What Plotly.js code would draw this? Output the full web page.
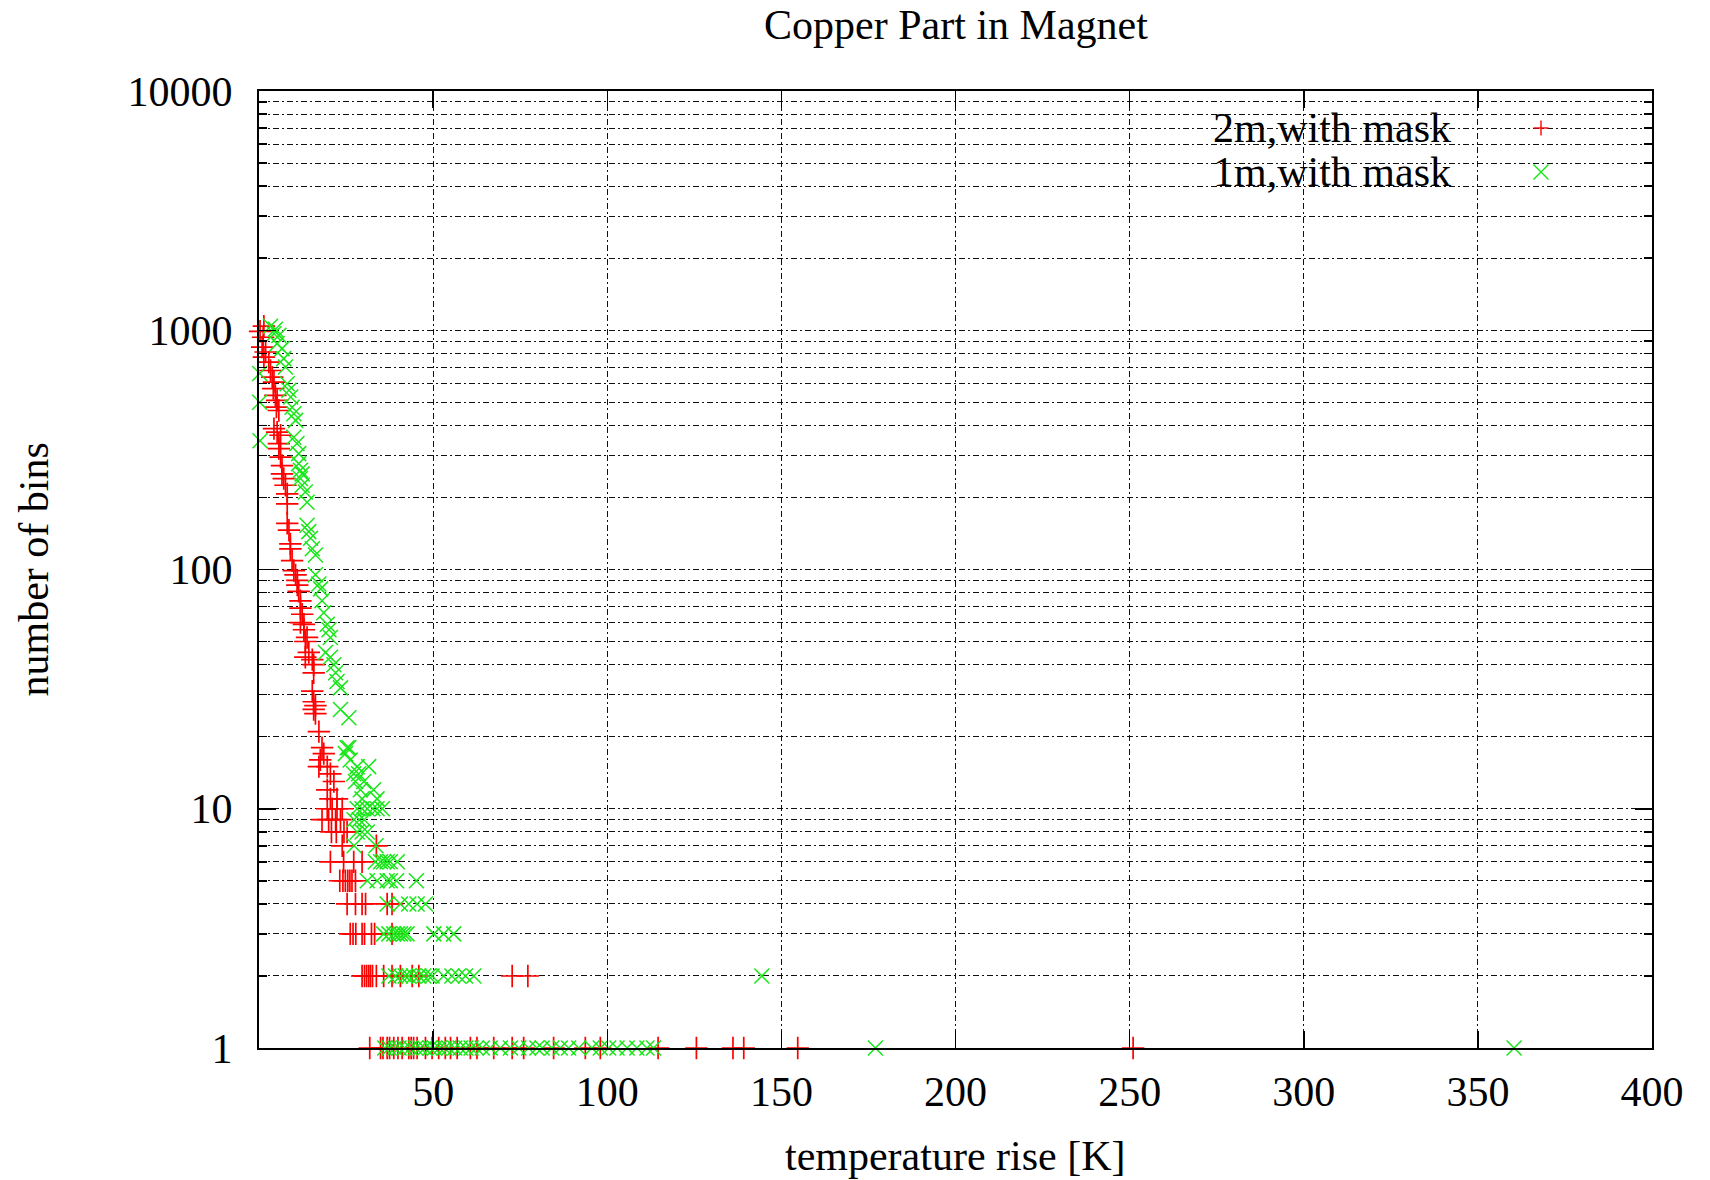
<!DOCTYPE html>
<html>
<head>
<meta charset="utf-8">
<script src="https://cdn.plot.ly/plotly-3.0.1.min.js"></script>
<style>
  html, body { margin: 0; padding: 0; background: #ffffff; }
  #chart { width: 1710px; height: 1180px; }
</style>
</head>
<body>
<div id="chart"></div>
<script>
// ---- chart text ----
const chartTitle = 'Copper Part in Magnet';
const xAxisTitle = 'temperature rise [K]';
const yAxisTitle = 'number of bins';
const seriesNames = ['2m,with mask', '1m,with mask'];

// ---- axis ticks ----
const xTickVals = [50, 100, 150, 200, 250, 300, 350, 400];
const yTickVals = [1, 10, 100, 1000, 10000];
const yTickText = ['1', '10', '100', '1000', '10000'];
const yMinorVals = [2, 3, 4, 5, 6, 7, 8, 9,
                    20, 30, 40, 50, 60, 70, 80, 90,
                    200, 300, 400, 500, 600, 700, 800, 900,
                    2000, 3000, 4000, 5000, 6000, 7000, 8000, 9000];

// ---- 2m, with mask: temperature rise [K] and number of bins ----
const twoMetreX = [
  0.3, 1.4, 1.2, 0.9, 1.9, 1.4, 2.8, 3.3, 3.8, 4.3, 4.1, 4.7, 5.2, 5.0, 5.7,
  4.3, 5.2, 6.2, 5.7, 5.7, 6.2, 6.6, 6.6, 7.1, 7.6, 8.1, 8.1, 8.1, 8.6, 9.0,
  9.0, 9.5, 10.0, 10.5, 11.0, 11.0, 11.4, 11.9, 11.9, 12.4, 11.9, 12.9, 12.9, 13.8, 13.3,
  14.3, 13.3, 15.3, 15.7, 15.7, 15.3, 15.7, 16.2, 15.7, 16.2, 17.2, 18.1, 18.6, 17.6, 17.2,
  19.6, 20.5, 21.5, 19.6, 20.5, 22.4,
  19.6, 21.0, 22.4, 23.9,
  18.1, 20.0, 22.0, 23.4,
  20.8, 22.2, 24.4, 25.3,
  23.9, 33.7,
  20.5, 24.3, 27.2, 29.6,
  23.2, 24.1, 24.8, 25.5, 26.1, 26.7, 27.7,
  25.3, 27.7, 29.6, 30.6, 36.8, 38.2,
  26.2, 27.0, 27.8, 29.6, 30.3, 32.3, 33.2, 38.2,
  29.6, 30.3, 30.9, 31.5, 32.0, 32.6, 33.7, 35.8, 38.2, 40.6, 44.0, 45.9, 72.7, 77.2,
  31.8, 34.9, 35.6, 36.8, 37.5, 38.7, 39.9, 41.1, 43.0, 43.7, 44.4, 45.4, 47.8, 49.7, 51.6,
  53.5, 55.0, 56.9, 60.7, 62.6, 67.4, 72.7, 76.0, 84.6, 93.7, 98.0, 114.6, 125.6, 136.1, 139.2,
  154.7, 251.0
];
const twoMetreY = [
  990, 1040, 935, 850, 811, 772, 736, 679, 637, 607, 570, 534, 509, 477, 462,
  388, 375, 364, 336, 320, 295, 272, 251, 240, 225, 207, 188, 156, 146, 128,
  122, 109, 99, 95, 90, 86, 81, 74, 69, 65, 60, 59, 56, 52, 50,
  45, 43, 42, 40, 37, 31, 28, 27, 26, 25, 21, 18, 17, 16, 15,
  15, 14, 13, 12, 11, 11,
  10, 10, 10, 10,
  9, 9, 9, 9,
  8, 8, 8, 8,
  7, 7,
  6, 6, 6, 6,
  5, 5, 5, 5, 5, 5, 5,
  4, 4, 4, 4, 4, 4,
  3, 3, 3, 3, 3, 3, 3, 3,
  2, 2, 2, 2, 2, 2, 2, 2, 2, 2, 2, 2, 2, 2,
  1, 1, 1, 1, 1, 1, 1, 1, 1, 1, 1, 1, 1, 1, 1,
  1, 1, 1, 1, 1, 1, 1, 1, 1, 1, 1, 1, 1, 1, 1,
  1, 1
];

// ---- 1m, with mask: temperature rise [K] and number of bins ----
const oneMetreX = [
  3.3, 4.7, 4.3, 5.7, 5.2, 6.6, 7.1, 7.6, 0.2, 8.1, 8.6, 9.1, 0.2, 9.5, 10.0,
  10.5, 10.0, 0.3, 10.9, 11.4, 11.4, 11.9, 12.4, 11.9, 12.4, 13.3, 13.8, 13.8, 14.3, 14.8,
  15.3, 16.2, 16.2, 17.2, 17.7, 18.1, 18.6, 19.6, 20.1, 20.5, 19.1, 20.5, 21.5, 22.0, 22.4,
  23.4, 23.4, 25.8, 25.3, 25.8, 24.8, 26.2, 28.2, 31.5, 27.2, 28.6, 27.7, 30.1, 29.1, 32.9,
  29.6, 33.9,
  28.2, 29.6, 31.1, 32.7, 33.9, 35.4,
  27.3, 28.8, 30.2,
  28.2, 29.6, 31.1,
  27.3, 33.6,
  33.4, 34.9, 35.8, 36.8, 37.7, 39.7,
  31.1, 33.9, 36.8, 37.7, 39.5, 45.2,
  36.8, 40.6, 43.0, 45.4, 47.8,
  35.8, 37.3, 38.7, 39.7, 40.6, 41.6, 42.5, 50.2, 53.0, 55.9,
  37.3, 39.2, 40.6, 42.0, 43.0, 44.4, 45.9, 47.3, 48.7, 49.7, 53.0, 55.4, 57.3, 59.3, 61.7, 144.4,
  36.1, 37.4, 39.0, 40.2, 41.8, 43.5, 45.0, 46.3, 47.6, 49.1, 50.4, 51.8, 53.3, 54.5, 56.2,
  57.8, 59.4, 60.9, 62.4, 64.1, 66.4, 69.3, 72.2, 74.6, 77.4, 79.8, 81.3, 84.1, 86.5, 88.9,
  91.8, 95.6, 98.0, 100.4, 102.8, 105.7, 108.5, 111.4, 113.3, 177.0, 360.4
];
const oneMetreY = [
  1040, 1010, 967, 952, 879, 838, 761, 702, 660, 598, 561, 526, 500, 477, 448,
  420, 357, 345, 336, 305, 277, 260, 251, 240, 225, 211, 191, 153, 144, 135,
  122, 115, 95, 87, 83, 74, 66, 59, 56, 52, 45, 43, 40, 37, 34,
  32, 26, 24, 18, 18, 17, 16, 15, 15, 14, 14, 13, 13, 12, 12,
  11, 11,
  10, 10, 10, 10, 10, 10,
  9, 9, 9,
  8, 8, 8,
  7, 7,
  6, 6, 6, 6, 6, 6,
  5, 5, 5, 5, 5, 5,
  4, 4, 4, 4, 4,
  3, 3, 3, 3, 3, 3, 3, 3, 3, 3,
  2, 2, 2, 2, 2, 2, 2, 2, 2, 2, 2, 2, 2, 2, 2, 2,
  1, 1, 1, 1, 1, 1, 1, 1, 1, 1, 1, 1, 1, 1, 1,
  1, 1, 1, 1, 1, 1, 1, 1, 1, 1, 1, 1, 1, 1, 1,
  1, 1, 1, 1, 1, 1, 1, 1, 1, 1, 1
];

// ---- styling ----
const RED = '#ff0000';
const GREEN = '#19e619';
const FONT = 'Liberation Serif, Times New Roman, serif';
const GRID = '#111111';
const GRID_DASH = '6px,3px,2px,3px';

// plot area in page pixels
const PLOT = { left: 259, right: 1652, top: 91, bottom: 1048 };
const W = 1710, H = 1180;
const pxX = px => (px - PLOT.left) / (PLOT.right - PLOT.left);
const pxY = py => (PLOT.bottom - py) / (PLOT.bottom - PLOT.top);

const traces = [
  {
    type: 'scatter', mode: 'markers', name: seriesNames[0],
    x: twoMetreX, y: twoMetreY, cliponaxis: false,
    marker: { symbol: 'cross-thin', size: 16, color: RED, line: { color: RED, width: 1.7 } }
  },
  {
    type: 'scatter', mode: 'markers', name: seriesNames[1],
    x: oneMetreX, y: oneMetreY, cliponaxis: false,
    marker: { symbol: 'x-thin', size: 15, color: GREEN, line: { color: GREEN, width: 1.5 } }
  }
];

// key box and its sample marks, drawn as a gnuplot-style key
const keyRows = [128, 172];
const keyMarkX = 1541;
const keyTextRight = 1453;
const arm = 7.5;
const shapes = [
  { type: 'rect', xref: 'paper', yref: 'paper', layer: 'between',
    x0: pxX(1142), x1: pxX(1625), y0: pxY(196), y1: pxY(104),
    fillcolor: '#ffffff', line: { width: 0 } },
  // "+" sample
  { type: 'line', xref: 'paper', yref: 'paper', xsizemode: 'pixel', ysizemode: 'pixel',
    xanchor: pxX(keyMarkX), yanchor: pxY(keyRows[0]), x0: -arm, x1: arm, y0: 0, y1: 0,
    line: { color: RED, width: 1.4 } },
  { type: 'line', xref: 'paper', yref: 'paper', xsizemode: 'pixel', ysizemode: 'pixel',
    xanchor: pxX(keyMarkX), yanchor: pxY(keyRows[0]), x0: 0, x1: 0, y0: -arm, y1: arm,
    line: { color: RED, width: 1.4 } },
  // "x" sample
  { type: 'line', xref: 'paper', yref: 'paper', xsizemode: 'pixel', ysizemode: 'pixel',
    xanchor: pxX(keyMarkX), yanchor: pxY(keyRows[1]), x0: -arm, x1: arm, y0: -arm, y1: arm,
    line: { color: GREEN, width: 1.4 } },
  { type: 'line', xref: 'paper', yref: 'paper', xsizemode: 'pixel', ysizemode: 'pixel',
    xanchor: pxX(keyMarkX), yanchor: pxY(keyRows[1]), x0: -arm, x1: arm, y0: arm, y1: -arm,
    line: { color: GREEN, width: 1.4 } }
];

const annotations = [
  { text: seriesNames[0], xref: 'paper', yref: 'paper', x: pxX(keyTextRight), y: pxY(keyRows[0]),
    xanchor: 'right', yanchor: 'middle', showarrow: false, font: { family: FONT, size: 42, color: '#000' } },
  { text: seriesNames[1], xref: 'paper', yref: 'paper', x: pxX(keyTextRight), y: pxY(keyRows[1]),
    xanchor: 'right', yanchor: 'middle', showarrow: false, font: { family: FONT, size: 42, color: '#000' } },
  { text: xAxisTitle, xref: 'paper', yref: 'paper', x: 0.5, y: pxY(1156),
    xanchor: 'center', yanchor: 'middle', showarrow: false, font: { family: FONT, size: 42, color: '#000' } },
  { text: yAxisTitle, xref: 'paper', yref: 'paper', x: pxX(33), y: 0.5, textangle: -90,
    xanchor: 'center', yanchor: 'middle', showarrow: false, font: { family: FONT, size: 42, color: '#000' } }
];

const layout = {
  width: W, height: H,
  paper_bgcolor: '#ffffff', plot_bgcolor: '#ffffff',
  margin: { l: PLOT.left, r: W - PLOT.right, t: PLOT.top, b: H - PLOT.bottom, pad: 0 },
  showlegend: false,
  font: { family: FONT, size: 42, color: '#000' },
  title: { text: chartTitle, x: 956 / W, xanchor: 'center', y: 1 - 24 / H, yanchor: 'middle',
           yref: 'container', font: { family: FONT, size: 42, color: '#000' } },
  xaxis: {
    range: [0, 400], tickmode: 'array', tickvals: xTickVals,
    ticks: 'inside', ticklen: 17, tickwidth: 1.5, tickcolor: '#000',
    showline: true, linecolor: '#000', linewidth: 2, mirror: 'allticks',
    showgrid: true, gridcolor: GRID, gridwidth: 1, griddash: GRID_DASH,
    zeroline: false, ticklabelstandoff: 6,
    tickfont: { family: FONT, size: 42, color: '#000' }
  },
  yaxis: {
    type: 'log', range: [0, 4], tickmode: 'array', tickvals: yTickVals, ticktext: yTickText,
    ticks: 'inside', ticklen: 17, tickwidth: 1.5, tickcolor: '#000',
    showline: true, linecolor: '#000', linewidth: 2, mirror: 'allticks',
    showgrid: true, gridcolor: GRID, gridwidth: 1, griddash: GRID_DASH,
    zeroline: false, ticklabelstandoff: 16,
    tickfont: { family: FONT, size: 42, color: '#000' },
    minor: { tickmode: 'array', tickvals: yMinorVals, ticks: 'inside', ticklen: 8,
             tickwidth: 1.5, tickcolor: '#000', showgrid: true, gridcolor: GRID,
             gridwidth: 1, griddash: GRID_DASH }
  },
  shapes: shapes,
  annotations: annotations
};

Plotly.newPlot('chart', traces, layout, { displayModeBar: false, staticPlot: true });
</script>
</body>
</html>
